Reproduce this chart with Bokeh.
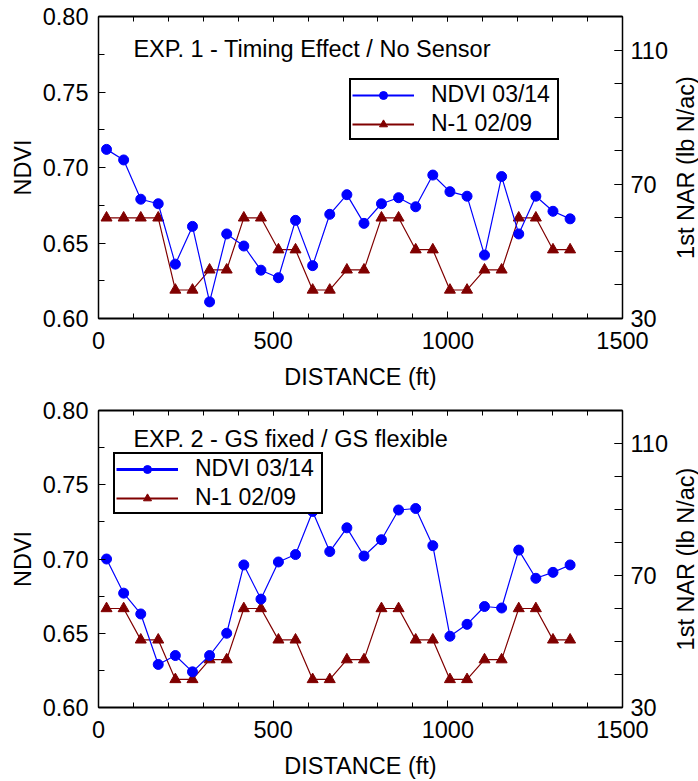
from math import pi
from bokeh.plotting import figure
from bokeh.layouts import column, row
from bokeh.models import (Range1d, LinearAxis, FixedTicker, PrintfTickFormatter,
                          CustomJSTickFormatter, Label, Legend, LegendItem, Title)
from bokeh.embed import file_html
from bokeh.resources import INLINE

# ---------------- data ----------------
distance = [23, 72, 121, 171, 220, 269, 318, 367, 416, 465, 515, 564, 613, 662,
            711, 760, 810, 859, 908, 957, 1006, 1055, 1105, 1154, 1203, 1252, 1301, 1350]

ndvi_exp1 = [0.712, 0.705, 0.679, 0.676, 0.636, 0.661, 0.611, 0.656, 0.648, 0.632,
             0.627, 0.665, 0.635, 0.669, 0.682, 0.663, 0.676, 0.680, 0.674, 0.695,
             0.684, 0.681, 0.642, 0.694, 0.656, 0.681, 0.671, 0.666]
nar_exp1 = [60, 60, 60, 60, 38.5, 38.5, 44.5, 44.5, 60, 60, 50.5, 50.5, 38.5, 38.5,
            44.5, 44.5, 60, 60, 50.5, 50.5, 38.5, 38.5, 44.5, 44.5, 60, 60, 50.5, 50.5]

ndvi_exp2 = [0.700, 0.677, 0.663, 0.629, 0.635, 0.624, 0.635, 0.650, 0.696, 0.673,
             0.698, 0.703, 0.732, 0.705, 0.721, 0.702, 0.713, 0.733, 0.734, 0.709,
             0.648, 0.656, 0.668, 0.667, 0.706, 0.687, 0.691, 0.696]
nar_exp2 = [60, 60, 50.5, 50.5, 38.5, 38.5, 44.5, 44.5, 60, 60, 50.5, 50.5, 38.5, 38.5,
            44.5, 44.5, 60, 60, 50.5, 50.5, 38.5, 38.5, 44.5, 44.5, 60, 60, 50.5, 50.5]

dist_major = [0, 500, 1000, 1500]
dist_minor = [0, 100, 200, 300, 400, 500, 600, 700, 800, 900, 1000, 1100, 1200, 1300, 1400, 1500]
ndvi_major = [0.60, 0.65, 0.70, 0.75, 0.80]
ndvi_minor = [0.600, 0.625, 0.650, 0.675, 0.700, 0.725, 0.750, 0.775, 0.800]
nar_major = [30, 70, 110]
nar_minor = [30, 40, 50, 60, 70, 80, 90, 100, 110, 120]

series_names = ["NDVI 03/14", "N-1 02/09"]
titles = ["EXP. 1 - Timing Effect / No Sensor", "EXP. 2 - GS fixed / GS flexible"]
x_label = "DISTANCE (ft)"
y_label = "NDVI"
y2_label = "1st NAR (lb N/ac)"

BLUE = "#0000ff"
RED = "#800000"
FONT = "Liberation Sans"
FS = "23.5px"
NAN = float("nan")
MAIN_W = 670
SIDE_W = 28


def style_axis(ax, lw, standoff):
    ax.axis_line_width = lw
    ax.axis_line_color = "black"
    ax.major_tick_in = 7
    ax.major_tick_out = 0
    ax.minor_tick_in = 5
    ax.minor_tick_out = 0
    ax.major_tick_line_color = "black"
    ax.minor_tick_line_color = "black"
    ax.major_tick_line_width = 1
    ax.minor_tick_line_width = 1
    ax.major_label_text_font = FONT
    ax.major_label_text_font_size = FS
    ax.major_label_text_color = "black"
    ax.major_label_standoff = standoff
    ax.axis_label_text_font = FONT
    ax.axis_label_text_font_size = FS
    ax.axis_label_text_font_style = "normal"
    ax.axis_label_text_color = "black"


def make_fig(height, mtop, mbottom, ndvi, nar, title, title_y,
             legend_loc, legend_lw, xstand, xlabstand):
    p = figure(width=MAIN_W, height=height, x_range=Range1d(0, 1500),
               y_range=Range1d(0.60, 0.80), output_backend="svg",
               toolbar_location=None, min_border_left=98,
               min_border_right=MAIN_W - 98 - 525,
               min_border_top=mtop, min_border_bottom=mbottom)
    p.extra_y_ranges = {"nar": Range1d(30, 120)}
    p.outline_line_color = None
    p.grid.grid_line_color = None
    p.background_fill_color = "white"
    p.border_fill_color = "white"

    xa = p.xaxis[0]
    xa.ticker = FixedTicker(ticks=dist_major, minor_ticks=dist_minor)
    xa.formatter = PrintfTickFormatter(format="%d")
    style_axis(xa, 2, xstand)
    xa.axis_label = x_label
    xa.axis_label_standoff = xlabstand

    ya = p.yaxis[0]
    ya.ticker = FixedTicker(ticks=ndvi_major, minor_ticks=ndvi_minor)
    ya.formatter = PrintfTickFormatter(format="%.2f")
    style_axis(ya, 1.5, 10)
    ya.minor_tick_in = 6
    ya.axis_label = y_label
    ya.axis_label_standoff = 4

    top = LinearAxis(ticker=FixedTicker(ticks=dist_major, minor_ticks=dist_minor),
                     formatter=CustomJSTickFormatter(code="return ''"))
    style_axis(top, 2, 0)
    top.major_tick_in = 5
    top.minor_tick_in = 5
    p.add_layout(top, "above")

    ra = LinearAxis(y_range_name="nar",
                    ticker=FixedTicker(ticks=nar_major, minor_ticks=nar_minor),
                    formatter=PrintfTickFormatter(format="%d"))
    style_axis(ra, 1.5, 8)
    ra.major_tick_in = 8
    ra.minor_tick_in = 8
    p.add_layout(ra, "right")

    # data
    p.line(distance, nar, y_range_name="nar", line_color=RED, line_width=1.2)
    p.scatter(distance, nar, y_range_name="nar", marker="triangle", size=11,
              fill_color=RED, line_color=RED)
    p.line(distance, ndvi, line_color=BLUE, line_width=1.2)
    p.scatter(distance, ndvi, marker="circle", size=10, fill_color=BLUE,
              line_color=BLUE)

    # legend-only renderers (no visible data)
    lb = p.line([NAN], [NAN], line_color=BLUE, line_width=legend_lw[0])
    sb = p.scatter([NAN], [NAN], marker="circle", fill_color=BLUE, line_color=BLUE)
    lr = p.line([NAN], [NAN], line_color=RED, line_width=legend_lw[1])
    sr = p.scatter([NAN], [NAN], marker="triangle", fill_color=RED, line_color=RED)
    leg = Legend(items=[LegendItem(label=series_names[0], renderers=[lb, sb]),
                        LegendItem(label=series_names[1], renderers=[lr, sr])],
                 location=legend_loc, orientation="vertical")
    leg.border_line_color = "black"
    leg.border_line_alpha = 1
    leg.border_line_width = 2
    leg.background_fill_color = "white"
    leg.background_fill_alpha = 1
    leg.label_text_font = FONT
    leg.label_text_font_size = "23px"
    leg.label_text_color = "black"
    leg.padding = 1
    leg.spacing = 2
    leg.margin = 0
    leg.glyph_width = 62
    leg.glyph_height = 20
    leg.label_height = 20
    leg.label_width = 125
    leg.label_standoff = 17
    p.add_layout(leg)

    p.add_layout(Label(x=100, y=title_y, text=title, text_font=FONT,
                       text_font_size=FS, text_baseline="middle",
                       text_align="left", text_color="black"))

    # narrow companion figure holding the right-hand axis title (reads upward)
    s = figure(width=SIDE_W, height=height, output_backend="svg",
               toolbar_location=None, min_border_left=0, min_border_right=0,
               min_border_top=mtop, min_border_bottom=mbottom,
               x_axis_location=None, y_axis_location=None)
    s.grid.visible = False
    s.outline_line_color = None
    s.background_fill_color = "white"
    s.border_fill_color = "white"
    s.add_layout(Title(text=y2_label, align="center", text_font=FONT,
                       text_font_size=FS, text_font_style="normal",
                       text_color="black", standoff=0, offset=0), "left")
    return row(p, s, spacing=0)


r1 = make_fig(398, 16, 80, ndvi_exp1, nar_exp1, titles[0], 0.7785,
              (251, 178), (2, 2), 13, 12)
r2 = make_fig(383, 12, 69, ndvi_exp2, nar_exp2, titles[1], 0.7808,
              (15, 193), (3, 2), 13, 12)

layout = column(r1, r2, spacing=0)
open("out.html", "w").write(file_html(layout, INLINE))
